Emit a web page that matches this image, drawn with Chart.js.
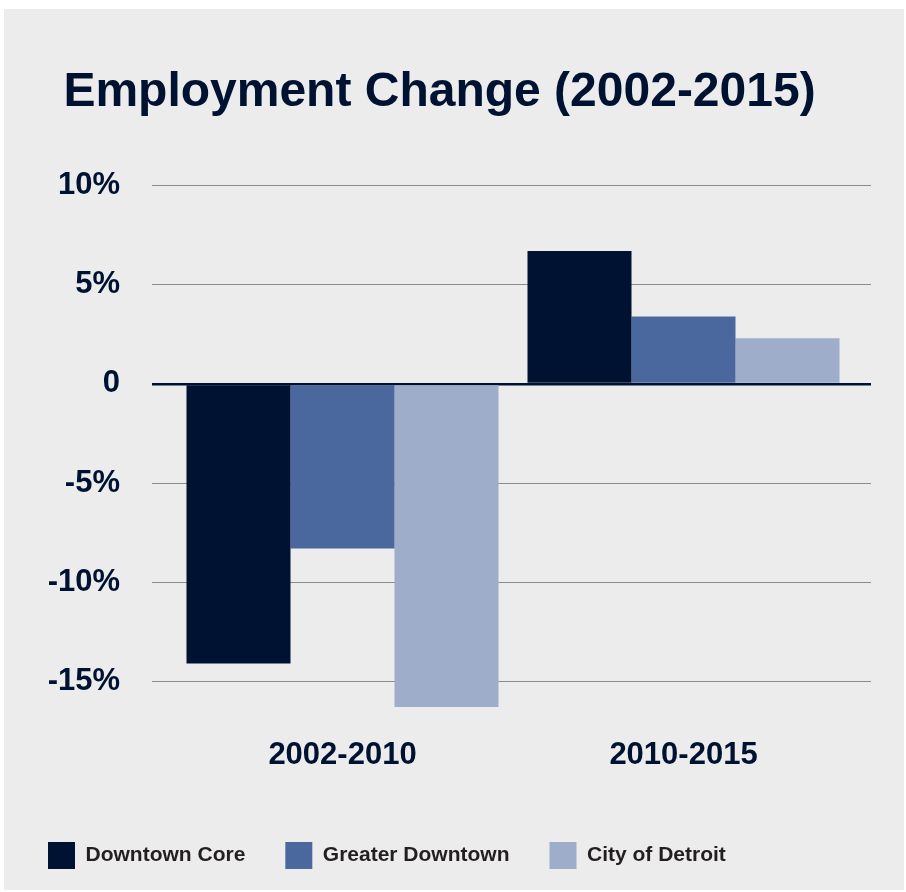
<!DOCTYPE html>
<html>
<head>
<meta charset="utf-8">
<script src="https://cdn.jsdelivr.net/npm/chart.js@4/dist/chart.umd.min.js"></script>
<style>
    body { margin: 0; background: #ffffff; }
    #panel { position: absolute; left: 4px; top: 9px; width: 900px; height: 881px; background: #ececec; }
</style>
</head>
<body>
<div id="panel"><canvas id="myChart" width="900" height="881"></canvas></div>
<script>
const categories = ['2002-2010', '2010-2015'];
const downtownCore = [-14.1, 6.7];
const greaterDowntown = [-8.3, 3.4];
const cityOfDetroit = [-16.3, 2.3];
const yTicks = [-15, -10, -5, 0, 5, 10];

const navy = '#001231';
const fontFamily = '"Liberation Sans", Arial, sans-serif';

function keepTicks(scale) {
    scale.ticks = yTicks.map(v => ({ value: v }));
}

function gridColor(ctx) {
    return ctx.tick && ctx.tick.value === 0 ? navy : '#8c8c8c';
}

function gridWidth(ctx) {
    return ctx.tick && ctx.tick.value === 0 ? 2.5 : 1;
}

const ctx = document.getElementById('myChart');

new Chart(ctx, {
    type: 'bar',
    data: {
        labels: categories,
        datasets: [
            { label: 'Downtown Core', data: downtownCore, backgroundColor: '#001231' },
            { label: 'Greater Downtown', data: greaterDowntown, backgroundColor: '#4b689e' },
            { label: 'City of Detroit', data: cityOfDetroit, backgroundColor: '#9eaeca' }
        ]
    },
    options: {
        responsive: false,
        animation: false,
        layout: { padding: { left: 4, right: 33, top: 0, bottom: 11 } },
        datasets: {
            bar: { categoryPercentage: 0.915, barPercentage: 1, borderWidth: 0 }
        },
        plugins: {
            tooltip: { enabled: false },
            title: {
                display: true,
                text: 'Employment Change (2002-2015)',
                color: navy,
                font: { family: fontFamily, size: 48, weight: 'bold' },
                padding: { top: 55, bottom: 64 }
            },
            legend: {
                position: 'bottom',
                align: 'start',
                labels: {
                    boxWidth: 27,
                    boxHeight: 27,
                    padding: 40,
                    color: '#231f20',
                    font: { family: fontFamily, size: 21, weight: 'bold' }
                }
            }
        },
        scales: {
            x: {
                grid: { display: false },
                border: { display: false },
                ticks: {
                    color: navy,
                    padding: 8,
                    font: { family: fontFamily, size: 31, weight: 'bold' }
                },
                afterFit: scale => { scale.height = 81; }
            },
            y: {
                min: -17,
                max: 10,
                afterBuildTicks: keepTicks,
                afterFit: scale => { scale.width = 164; },
                border: { display: false },
                grid: { color: gridColor, lineWidth: gridWidth, tickLength: 20 },
                ticks: {
                    color: navy,
                    padding: 32,
                    font: { family: fontFamily, size: 31, weight: 'bold' },
                    callback: v => v === 0 ? '0' : v + '%'
                }
            },
            y2: {
                position: 'right',
                min: -17,
                max: 10,
                afterBuildTicks: keepTicks,
                border: { display: false },
                grid: { drawOnChartArea: false, color: gridColor, lineWidth: gridWidth, tickLength: 17 },
                ticks: { display: false }
            }
        }
    }
});
</script>
</body>
</html>
